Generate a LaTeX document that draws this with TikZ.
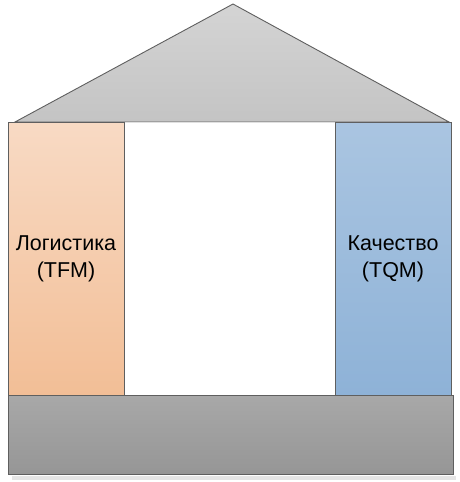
\documentclass[tikz,border=0pt]{standalone}
\usepackage{fontspec}
\setmainfont{Liberation Sans}
\usetikzlibrary{positioning}

\definecolor{logtop}{RGB}{248,218,196}
\definecolor{logbot}{RGB}{242,190,150}
\definecolor{tqmtop}{RGB}{170,197,225}
\definecolor{tqmbot}{RGB}{142,178,215}
\definecolor{rooftop}{RGB}{212,212,212}
\definecolor{roofbot}{RGB}{196,196,196}
\definecolor{basetop}{RGB}{168,168,168}
\definecolor{basebot}{RGB}{150,150,150}
\definecolor{edge}{RGB}{95,95,95}

\tikzset{
    pillar/.style={draw=edge, line width=0.9pt, minimum width=116pt, minimum height=273pt,
        inner sep=0pt, align=center, font=\fontsize{21.5}{27}\selectfont},
    logist/.style={pillar, top color=logtop, bottom color=logbot},
    quality/.style={pillar, top color=tqmtop, bottom color=tqmbot}
}

\begin{document}
\begin{tikzpicture}[x=1pt, y=-1pt]
    \useasboundingbox (0,0) rectangle (459,482);
    % Roof
    \coordinate (apex)   at (233,4);
    \coordinate (eaveL)  at (15,122);
    \coordinate (eaveR)  at (449,122);
    \draw[edge, line width=0.9pt, top color=rooftop, bottom color=roofbot]
        (apex) -- (eaveR) -- (eaveL) -- cycle;
    % Hall between the pillars
    \node[draw=black!12, fill=white, minimum width=211pt, minimum height=273pt, inner sep=0pt]
        (hall) at (229.5,258.5) {};
    % Pillars
    \node[logist] (log) at (66,258.5) {Логистика\\(TFM)};
    \node[quality] (tqm) at (393,258.5) {Качество\\(TQM)};
    % Foundation
    \fill[black!10] (12,476) rectangle (456,480);
    \node[draw=edge, line width=0.9pt, top color=basetop, bottom color=basebot,
        minimum width=445pt, minimum height=79pt, inner sep=0pt]
        (base) at (230.5,434.5) {};
\end{tikzpicture}
\end{document}
